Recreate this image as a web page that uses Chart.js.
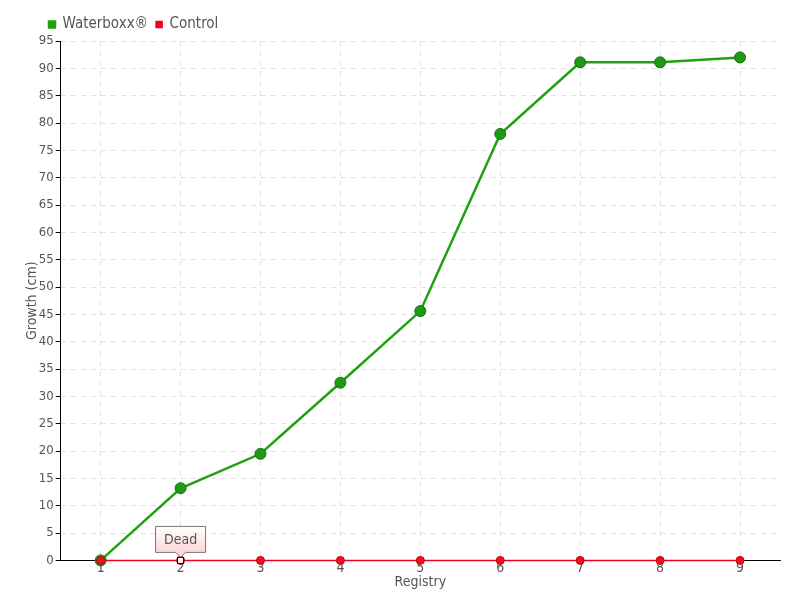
<!DOCTYPE html>
<html>
<head>
<meta charset="utf-8">
<script src="https://cdn.jsdelivr.net/npm/chart.js@4/dist/chart.umd.min.js"></script>
<style>
  body { margin: 0; background: #fff; }
  #wrap { width: 800px; height: 600px; }
</style>
</head>
<body>
<div id="wrap"><canvas id="chart" width="800" height="600"></canvas></div>
<script>
// chart data
const registry = ['1', '2', '3', '4', '5', '6', '7', '8', '9'];
const waterboxx = [0, 13.2, 19.5, 32.5, 45.6, 78, 91.1, 91.1, 92];
const control = [0, 0, 0, 0, 0, 0, 0, 0, 0];
const yTicks = { min: 0, max: 95, step: 5 };
const deadNote = { index: 1, text: 'Dead' };

const fontFamily = '"DejaVu Sans Condensed", "DejaVu Sans", sans-serif';
const textColor = '#555';

// draws the little "Dead" callout above the control point
const deadPlugin = {
    id: 'deadNote',
    afterLayout(chart) {
        // push the legend to the right a bit, like the original
        chart.legend.left += 17;
        chart.legend.top += 1;
    },
    afterDatasetsDraw(chart) {
        const meta = chart.getDatasetMeta(1);
        const pt = meta.data[deadNote.index];
        if (!pt) return;
        const ctx = chart.ctx;
        const x = pt.x, y = pt.y;
        const w = 50, h = 26;
        const left = x - w / 2, top = y - 34;
        ctx.save();
        const grad = ctx.createLinearGradient(0, top, 0, top + h);
        grad.addColorStop(0, '#ffffff');
        grad.addColorStop(1, '#fbd6d6');
        ctx.beginPath();
        ctx.moveTo(left, top);
        ctx.lineTo(left + w, top);
        ctx.lineTo(left + w, top + h);
        ctx.lineTo(x + 5, top + h);
        ctx.lineTo(x, top + h + 5);
        ctx.lineTo(x - 5, top + h);
        ctx.lineTo(left, top + h);
        ctx.closePath();
        ctx.fillStyle = grad;
        ctx.fill();
        ctx.strokeStyle = '#777';
        ctx.lineWidth = 1;
        ctx.stroke();
        ctx.fillStyle = textColor;
        ctx.font = '14px ' + fontFamily;
        ctx.textAlign = 'center';
        ctx.textBaseline = 'middle';
        ctx.fillText(deadNote.text, x, top + h / 2 + 1);
        // small square marker on the point
        ctx.fillStyle = '#fff';
        ctx.fillRect(x - 3, y - 3, 6, 6);
        ctx.strokeStyle = '#000';
        ctx.strokeRect(x - 3, y - 3, 6, 6);
        ctx.restore();
    }
};

const chart = new Chart(document.getElementById('chart'), {
    type: 'line',
    data: {
        labels: registry,
        datasets: [{
            label: 'Waterboxx®',
            data: waterboxx,
            borderColor: '#1fa20f',
            backgroundColor: '#1fa20f',
            pointBackgroundColor: '#1f9a14',
            pointBorderColor: '#16700c',
            pointBorderWidth: 1,
            pointRadius: 5.5,
            borderWidth: 2.5,
            tension: 0,
            clip: false,
            order: 1
        }, {
            label: 'Control',
            data: control,
            borderColor: '#f0001c',
            backgroundColor: '#f0001c',
            pointBackgroundColor: '#ee1020',
            pointBorderColor: '#c00018',
            pointBorderWidth: 1,
            pointRadius: 4,
            borderWidth: 1.5,
            tension: 0,
            clip: false,
            order: 0
        }]
    },
    options: {
        responsive: false,
        animation: false,
        layout: { padding: { left: 24, right: 20, top: 8, bottom: 9 } },
        plugins: {
            legend: {
                position: 'top',
                align: 'start',
                labels: {
                    boxWidth: 6,
                    boxHeight: 6,
                    padding: 8,
                    color: textColor,
                    font: { family: fontFamily, size: 15 },
                    sort: (a, b) => a.datasetIndex - b.datasetIndex
                }
            },
            tooltip: { enabled: false }
        },
        scales: {
            x: {
                offset: true,
                grid: {
                    color: '#e0e0e0',
                    tickLength: 4,
                    offset: false,
                    tickColor: '#888'
                },
                border: { color: '#000', width: 1, dash: [5, 5] },
                ticks: { color: textColor, font: { family: fontFamily, size: 14 }, padding: -4 },
                title: {
                    display: true,
                    text: 'Registry',
                    color: textColor,
                    font: { family: fontFamily, size: 14 },
                    padding: { top: 1, bottom: 0 }
                }
            },
            y: {
                min: yTicks.min,
                max: yTicks.max,
                ticks: {
                    stepSize: yTicks.step,
                    color: textColor,
                    font: { family: fontFamily, size: 13 },
                    padding: 2
                },
                grid: {
                    color: '#e0e0e0',
                    tickLength: 5,
                    tickColor: '#000'
                },
                border: { color: '#000', width: 1, dash: [5, 5] },
                title: {
                    display: true,
                    text: 'Growth (cm)',
                    color: textColor,
                    font: { family: fontFamily, size: 14 },
                    padding: { top: 0, bottom: -4 }
                }
            }
        }
    },
    plugins: [deadPlugin]
});
</script>
</body>
</html>
